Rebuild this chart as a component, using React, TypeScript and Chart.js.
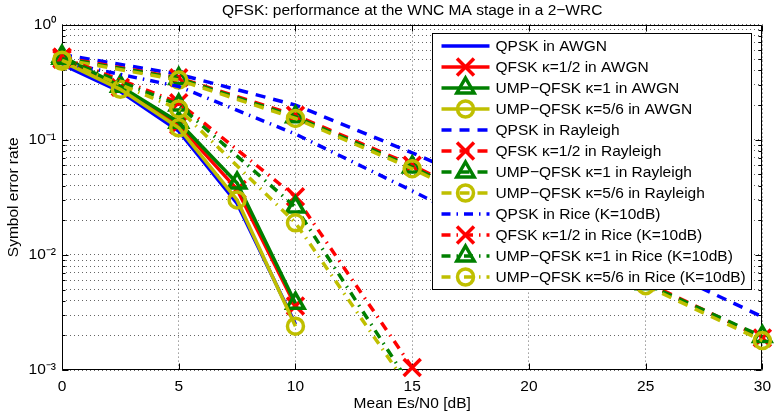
import React, { useEffect, useRef } from 'react';
import { Chart, registerables } from 'chart.js';

Chart.register(...registerables);

const FONT = "'Liberation Sans', Arial, Helvetica, sans-serif";
const FONT_SIZE = 15.5;

const chartTitle = 'QFSK: performance at the WNC MA stage in a 2\u2212WRC';
const xAxisTitle = 'Mean Es/N0 [dB]';
const yAxisTitle = 'Symbol error rate';

const xTickValues = [0, 5, 10, 15, 20, 25, 30];
const yMajorValues = [0.001, 0.01, 0.1, 1];
const yMajorLabels = ['10\u207B\u00B3', '10\u207B\u00B2', '10\u207B\u00B9', '10\u2070'];
const yMinorSignificands = [2, 3, 4, 5, 6, 7, 8, 9];

// x values (dB)
const snrAwgn = [0, 2.5, 5, 7.5, 10];
const snrRayleigh = [0, 5, 10, 15, 20, 25, 30];
const snrRiceQpsk = [0, 5, 10, 15, 20];
const snrRice = [0, 5, 10, 15];

// AWGN
const qpskAwgn = [0.45, 0.262, 0.119, 0.028, 0.0025];
const qfskAwgn = [0.5, 0.285, 0.134, 0.037, 0.0036];
const ump1Awgn = [0.53, 0.292, 0.142, 0.042, 0.0038];
const ump56Awgn = [0.48, 0.274, 0.127, 0.03, 0.0024];

// Rayleigh
const qpskRayleigh = [0.55, 0.37, 0.2, 0.077, 0.028, 0.0087, 0.0029];
const qfskRayleigh = [0.52, 0.345, 0.163, 0.06, 0.019, 0.0058, 0.0019];
const ump1Rayleigh = [0.51, 0.34, 0.158, 0.058, 0.0185, 0.0056, 0.00195];
const ump56Rayleigh = [0.5, 0.33, 0.153, 0.056, 0.018, 0.0054, 0.0018];

// Rice (K=10dB)
const qpskRice = [0.47, 0.29, 0.112, 0.036, 0.011];
const qfskRice = [0.52, 0.21, 0.032, 0.00105];
const ump1Rice = [0.51, 0.2, 0.026, 0.0007];
const ump56Rice = [0.49, 0.185, 0.019, 0.00064];

const seriesNames = [
  'QPSK in AWGN',
  'QFSK \u03BA=1/2 in AWGN',
  'UMP\u2212QFSK \u03BA=1 in AWGN',
  'UMP\u2212QFSK \u03BA=5/6 in AWGN',
  'QPSK in Rayleigh',
  'QFSK \u03BA=1/2 in Rayleigh',
  'UMP\u2212QFSK \u03BA=1 in Rayleigh',
  'UMP\u2212QFSK \u03BA=5/6 in Rayleigh',
  'QPSK in Rice (K=10dB)',
  'QFSK \u03BA=1/2 in Rice (K=10dB)',
  'UMP\u2212QFSK \u03BA=1 in Rice (K=10dB)',
  'UMP\u2212QFSK \u03BA=5/6 in Rice (K=10dB)',
];

const BLUE = '#0000ff';
const RED = '#ff0000';
const GREEN = '#008000';
const YELLOW = '#bfbf00';

const LINE_W = 3.5;
const MARKER_W = 3.5;
const SOLID: number[] = [];
const DASHED = [10, 8];
const DASHDOT = [9, 6, 1.5, 6];

type Kind = { color: string; marker: string; radius: number };
const kinds: Kind[] = [
  { color: BLUE, marker: 'none', radius: 0 },
  { color: RED, marker: 'crossRot', radius: 12 },
  { color: GREEN, marker: 'triangle', radius: 10 },
  { color: YELLOW, marker: 'circle', radius: 8 },
];

function pts(xs: number[], ys: number[]) {
  return xs.map((x, i) => ({ x, y: ys[i] }));
}

function makeDataset(idx: number, xs: number[], ys: number[], kindIdx: number, dash: number[], clipBottom = false) {
  const k = kinds[kindIdx];
  return {
    label: seriesNames[idx],
    data: pts(xs, ys),
    borderColor: k.color,
    backgroundColor: k.color,
    borderWidth: LINE_W,
    borderDash: dash,
    fill: false,
    tension: 0,
    pointStyle: k.marker === 'none' ? 'circle' : k.marker,
    pointRadius: k.radius,
    pointBorderWidth: MARKER_W,
    pointBorderColor: k.color,
    pointBackgroundColor: 'rgba(0,0,0,0)',
    order: -idx,
    clip: clipBottom ? { left: 20, top: 20, right: 20, bottom: 0 } : false,
    _marker: k.marker,
  } as any;
}

function drawMarker(ctx: CanvasRenderingContext2D, style: string, x: number, y: number, r: number, color: string, lw: number) {
  if (style === 'none' || r <= 0) return;
  ctx.save();
  ctx.setLineDash([]);
  ctx.strokeStyle = color;
  ctx.lineWidth = lw;
  ctx.beginPath();
  if (style === 'crossRot') {
    const o = r * Math.SQRT1_2;
    ctx.moveTo(x - o, y - o);
    ctx.lineTo(x + o, y + o);
    ctx.moveTo(x - o, y + o);
    ctx.lineTo(x + o, y - o);
  } else if (style === 'triangle') {
    ctx.moveTo(x, y - r);
    ctx.lineTo(x + r * 0.866, y + r * 0.5);
    ctx.lineTo(x - r * 0.866, y + r * 0.5);
    ctx.closePath();
  } else {
    ctx.arc(x, y, r, 0, Math.PI * 2);
  }
  ctx.stroke();
  ctx.restore();
}

const axesBoxPlugin = {
  id: 'axesBox',
  beforeDatasetsDraw(chart: any) {
    const { ctx, chartArea, scales } = chart;
    const { left, right, top, bottom } = chartArea;
    ctx.save();
    ctx.strokeStyle = '#000';
    ctx.lineWidth = 1;
    ctx.setLineDash([]);
    ctx.beginPath();
    const L = Math.round(left) + 0.5;
    const R = Math.round(right) - 0.5;
    const T = Math.round(top) + 0.5;
    const B = Math.round(bottom) - 0.5;
    ctx.rect(L, T, R - L, B - T);
    for (const v of xTickValues) {
      const px = Math.round(scales.x.getPixelForValue(v)) + 0.5;
      ctx.moveTo(px, B);
      ctx.lineTo(px, B - 6);
      ctx.moveTo(px, T);
      ctx.lineTo(px, T + 6);
    }
    for (const t of scales.y.ticks) {
      const major = yMajorValues.some((m) => Math.abs(m - t.value) / m < 1e-6);
      const len = major ? 6 : 3;
      const py = Math.round(scales.y.getPixelForValue(t.value)) + 0.5;
      ctx.moveTo(L, py);
      ctx.lineTo(L + len, py);
      ctx.moveTo(R, py);
      ctx.lineTo(R - len, py);
    }
    ctx.stroke();
    ctx.restore();
  },
};

const legendPlugin = {
  id: 'boxLegend',
  afterDatasetsDraw(chart: any) {
    const { ctx, chartArea } = chart;
    const boxW = 319;
    const boxH = 256;
    const bx = Math.round(chartArea.right - 11 - boxW) + 0.5;
    const by = Math.round(chartArea.top + 8) + 0.5;
    ctx.save();
    ctx.fillStyle = '#ffffff';
    ctx.fillRect(bx, by, boxW, boxH);
    ctx.strokeStyle = '#000';
    ctx.lineWidth = 1;
    ctx.setLineDash([]);
    ctx.strokeRect(bx, by, boxW, boxH);
    const rowH = 21.03;
    const firstY = by + 12.5;
    const x0 = bx + 9;
    const x1 = bx + 57;
    const xm = (x0 + x1) / 2;
    ctx.font = `${FONT_SIZE}px ${FONT}`;
    ctx.textBaseline = 'middle';
    ctx.textAlign = 'left';
    chart.data.datasets.forEach((ds: any, i: number) => {
      const y = Math.round(firstY + i * rowH);
      ctx.save();
      ctx.strokeStyle = ds.borderColor;
      ctx.lineWidth = ds.borderWidth;
      ctx.setLineDash(ds.borderDash || []);
      ctx.beginPath();
      ctx.moveTo(x0, y);
      ctx.lineTo(x1, y);
      ctx.stroke();
      ctx.restore();
      drawMarker(ctx, ds._marker, xm, y, ds.pointRadius, ds.borderColor, ds.pointBorderWidth);
      ctx.fillStyle = '#000';
      ctx.fillText(ds.label, bx + 63, y + 1);
    });
    ctx.restore();
  },
};

export default function App() {
  const canvasRef = useRef<HTMLCanvasElement | null>(null);

  useEffect(() => {
    const canvas = canvasRef.current;
    if (!canvas) return;

    const datasets = [
      makeDataset(0, snrAwgn, qpskAwgn, 0, SOLID),
      makeDataset(1, snrAwgn, qfskAwgn, 1, SOLID),
      makeDataset(2, snrAwgn, ump1Awgn, 2, SOLID),
      makeDataset(3, snrAwgn, ump56Awgn, 3, SOLID),
      makeDataset(4, snrRayleigh, qpskRayleigh, 0, DASHED),
      makeDataset(5, snrRayleigh, qfskRayleigh, 1, DASHED),
      makeDataset(6, snrRayleigh, ump1Rayleigh, 2, DASHED),
      makeDataset(7, snrRayleigh, ump56Rayleigh, 3, DASHED),
      makeDataset(8, snrRiceQpsk, qpskRice, 0, DASHDOT),
      makeDataset(9, snrRice, qfskRice, 1, DASHDOT),
      makeDataset(10, snrRice, ump1Rice, 2, DASHDOT, true),
      makeDataset(11, snrRice, ump56Rice, 3, DASHDOT, true),
    ];

    const yTickValues: number[] = [];
    for (let e = -3; e <= 0; e++) {
      const base = Math.pow(10, e);
      yTickValues.push(base);
      if (e < 0) for (const s of yMinorSignificands) yTickValues.push(s * base);
    }

    const font = { family: FONT, size: FONT_SIZE, weight: 'normal' as const };
    const gridColor = 'rgba(0,0,0,0.6)';

    const chart = new Chart(canvas, {
      type: 'line',
      data: { datasets },
      options: {
        animation: false,
        responsive: false,
        events: [],
        layout: { padding: { left: 0, right: 12, top: 0, bottom: 0 } },
        plugins: {
          legend: { display: false },
          tooltip: { enabled: false },
          title: {
            display: true,
            fullSize: false,
            text: chartTitle,
            color: '#000',
            font,
            padding: { top: 1, bottom: 5 },
          },
        },
        scales: {
          x: {
            type: 'linear',
            min: 0,
            max: 30,
            afterBuildTicks: (s: any) => {
              s.ticks = xTickValues.map((v) => ({ value: v }));
            },
            afterFit: (s: any) => {
              s.height = 46;
            },
            ticks: { color: '#000', font, padding: 7, maxRotation: 0, autoSkip: false },
            grid: { color: gridColor, lineWidth: 1, drawTicks: false },
            border: { display: false, dash: [1, 3] },
            title: { display: true, text: xAxisTitle, color: '#000', font, padding: { top: 0, bottom: 3 } },
          },
          y: {
            type: 'logarithmic',
            min: 0.001,
            max: 1,
            afterBuildTicks: (s: any) => {
              s.ticks = yTickValues.map((v) => ({ value: v }));
            },
            afterFit: (s: any) => {
              s.width = 62;
            },
            ticks: {
              color: '#000',
              font,
              padding: 6,
              autoSkip: false,
              callback: (value: any) => {
                const v = Number(value);
                const idx = yMajorValues.findIndex((m) => Math.abs(m - v) / m < 1e-6);
                return idx >= 0 ? yMajorLabels[idx] : '';
              },
            },
            grid: { color: gridColor, lineWidth: 1, drawTicks: false },
            border: { display: false, dash: [1, 3] },
            title: { display: true, text: yAxisTitle, color: '#000', font, padding: { top: 4, bottom: 0 } },
          },
        },
      } as any,
      plugins: [axesBoxPlugin, legendPlugin],
    });

    return () => {
      chart.destroy();
    };
  }, []);

  return (
    <div style={{ position: 'absolute', left: 0, top: 0, width: 778, height: 416, background: '#fff' }}>
      <canvas ref={canvasRef} width={778} height={416} style={{ display: 'block' }} />
    </div>
  );
}
